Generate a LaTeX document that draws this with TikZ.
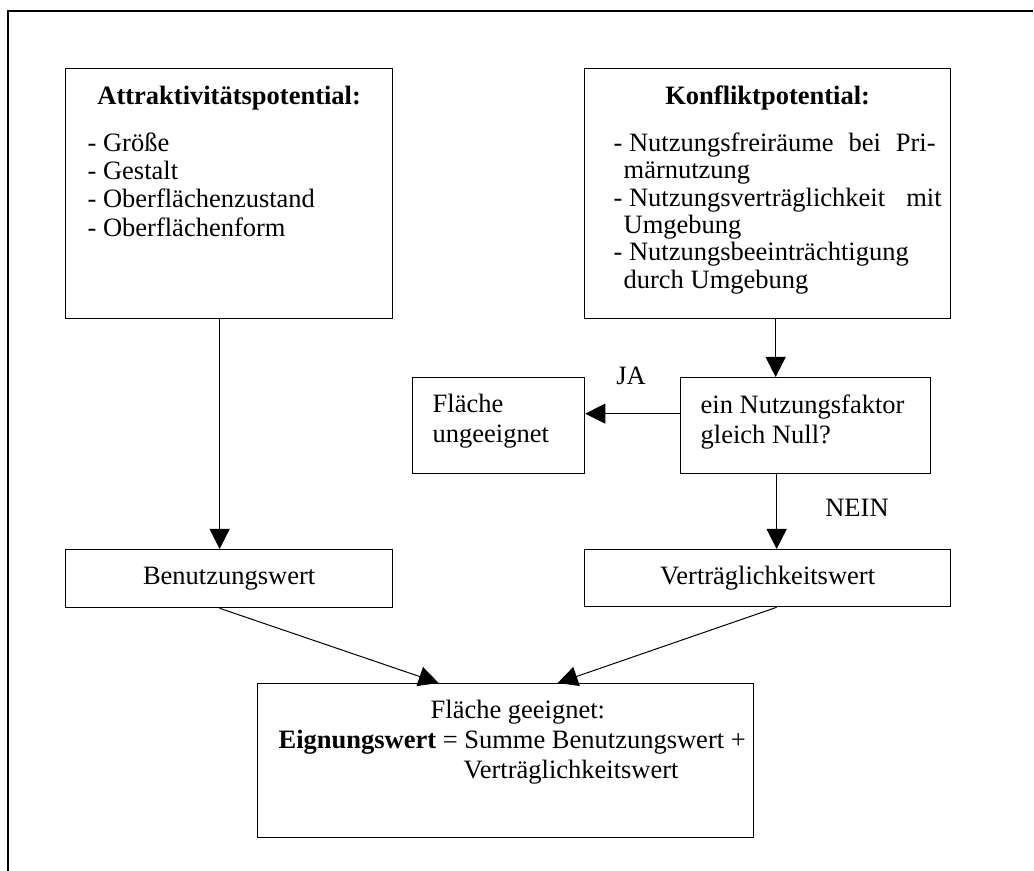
\documentclass[tikz,border=0pt]{standalone}
\usepackage{fontspec}
\setmainfont{Liberation Serif}
\usetikzlibrary{arrows.meta, positioning}
\tikzstyle{kasten} = [rectangle, draw=black, line width=0.65pt, inner sep=0pt, anchor=north west]
\tikzstyle{wert}   = [rectangle, draw=black, line width=0.65pt, inner sep=0pt, anchor=north west,
    text centered]
\tikzstyle{arrow}  = [line width=0.5pt, -{Triangle[length=10pt, width=10pt]}]
\tikzstyle{rahmen} = [line width=1pt]
\newcommand{\inhalt}[3]{\begin{minipage}[t][#2][t]{#1}#3\end{minipage}}

\begin{document}
\begin{tikzpicture}[x=0.5pt, y=-0.5pt, font=\fontsize{13.25pt}{15pt}\selectfont]
    \useasboundingbox (0,0) rectangle (1034,871);
    \draw [rahmen] (8,871) -- (8,11) -- (1033,11);

    \node (attraktiv) [kasten] at (65,68) {\inhalt{163.5pt}{125pt}{%
        \vspace*{8.5pt}
        {\centering\textbf{Attraktivitätspotential:}\par}
        \vspace{9.3pt}
        {\fontsize{13.25pt}{14.2pt}\selectfont
        \hspace*{11pt}- Größe\\
        \hspace*{11pt}- Gestalt\\
        \hspace*{11pt}- Oberflächenzustand\\
        \hspace*{11pt}- Oberflächenform\par}}};
    \node (konflikt) [kasten] at (584,68) {\inhalt{183pt}{125pt}{%
        \vspace*{8.5pt}
        {\centering\textbf{Konfliktpotential:}\par}
        \vspace{9.8pt}
        {\fontsize{13.25pt}{13.7pt}\selectfont
        \hspace*{14.5pt}\makebox[161pt][s]{-\kern3.3pt Nutzungsfreiräume bei Pri-}\\
        \hspace*{19.5pt}märnutzung\\
        \hspace*{14.5pt}\makebox[164pt][s]{-\kern3.3pt Nutzungsverträglichkeit mit}\\
        \hspace*{19.5pt}Umgebung\\
        \hspace*{14.5pt}- Nutzungsbeeinträchtigung\\
        \hspace*{19.5pt}durch Umgebung\par}}};
    \node (ungeeignet) [kasten] at (412,377) {\inhalt{86pt}{48pt}{%
        \vspace*{8.45pt}
        \hspace*{10pt}Fläche\\
        \hspace*{10pt}ungeeignet}};
    \node (frage) [kasten] at (680,377) {\inhalt{125pt}{48pt}{%
        \vspace*{8.45pt}
        \hspace*{10pt}ein Nutzungsfaktor\\
        \hspace*{10pt}gleich Null?}};
    \node (benutzung) [wert, minimum width=163.5pt, minimum height=29pt] at (65,549) {Benutzungswert};
    \node (vertraeglich) [wert, minimum width=183pt, minimum height=28.5pt] at (584,549) {Verträglichkeitswert};
    \node (eignung) [kasten] at (257,683) {\inhalt{248pt}{77pt}{%
        \vspace*{8.45pt}
        \hspace*{86.5pt}Fläche geeignet:\\
        \hspace*{10.5pt}\textbf{Eignungswert} = Summe Benutzungswert +\\
        \hspace*{103pt}Verträglichkeitswert}};
    \node (ja)   at (631,376) {JA};
    \node (nein) at (857,508) {NEIN};

    \draw [arrow] ([xshift=-4.75pt]attraktiv.south) -- ([xshift=-4.75pt]benutzung.north);
    \draw [arrow] ([xshift=4pt]konflikt.south) -- ([xshift=4pt]konflikt.south |- frage.north);
    \draw [arrow] ([yshift=6pt]frage.west) -- ([yshift=6pt]frage.west -| ungeeignet.east);
    \draw [arrow] ([xshift=4.5pt]vertraeglich.north |- frage.south) -- ([xshift=4.5pt]vertraeglich.north);
    \draw [arrow] ([xshift=-4.75pt]benutzung.south) -- ([xshift=-33.5pt]eignung.north);
    \draw [arrow] ([xshift=4.5pt]vertraeglich.south) -- ([xshift=26pt]eignung.north);
\end{tikzpicture}
\end{document}
